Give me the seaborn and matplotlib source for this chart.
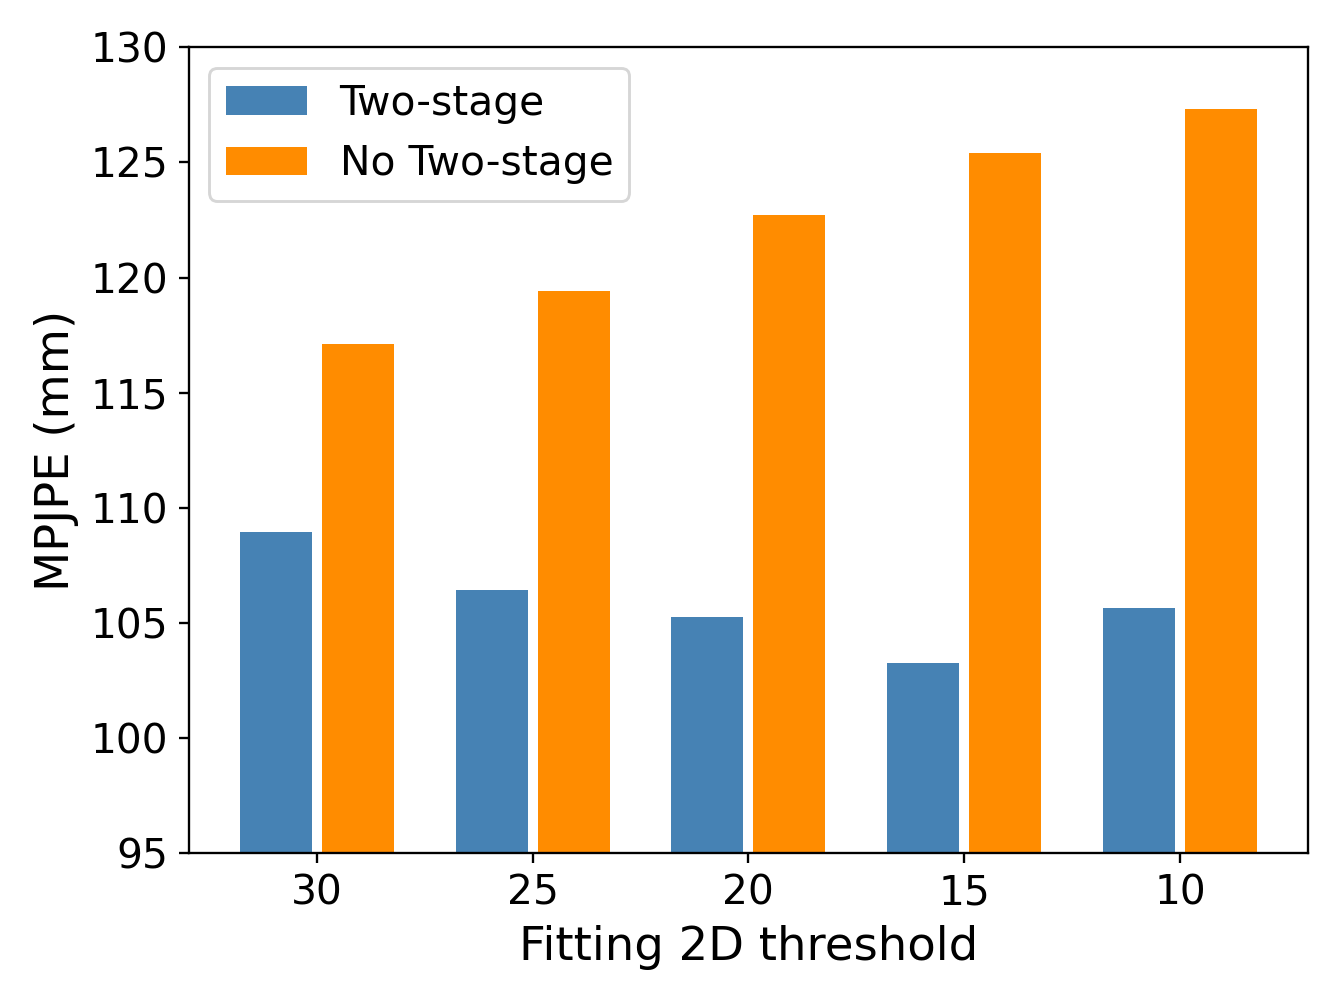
import matplotlib
matplotlib.use("Agg")
import matplotlib.pyplot as plt
import seaborn as sns
import pandas as pd

thresholds = ["30", "25", "20", "15", "10"]
two_stage = [108.95, 106.45, 105.25, 103.25, 105.65]
no_two_stage = [117.1, 119.4, 122.7, 125.4, 127.3]
series_names = ["Two-stage", "No Two-stage"]
colors = ["steelblue", "darkorange"]

df = pd.DataFrame({
    "threshold": thresholds * 2,
    "value": two_stage + no_two_stage,
    "method": [series_names[0]] * len(thresholds) + [series_names[1]] * len(thresholds),
})

plt.rcParams["font.family"] = ["DejaVu Sans"]
fig = plt.figure(figsize=(6.4, 4.8), dpi=209.375)
ax = fig.add_axes([0.141, 0.151, 0.835, 0.802])

sns.barplot(data=df, x="threshold", y="value", hue="method", order=thresholds,
            hue_order=series_names, palette=colors, errorbar=None,
            width=0.76, gap=0.123, linewidth=0, saturation=1, ax=ax)

ax.set_ylim(95, 130)
ax.set_yticks(range(95, 131, 5))
ax.set_xlim(-0.592, len(thresholds) - 1 + 0.592)
ax.set_xlabel("Fitting 2D threshold", fontsize=16)
ax.set_ylabel("MPJPE (mm)", fontsize=16)
ax.tick_params(axis="both", labelsize=14)
for s in ax.spines.values():
    s.set_visible(True)
    s.set_color("black")
sns.move_legend(ax, "upper left", title=None, fontsize=14, frameon=True)

fig.savefig("out.png", dpi=209.375)
